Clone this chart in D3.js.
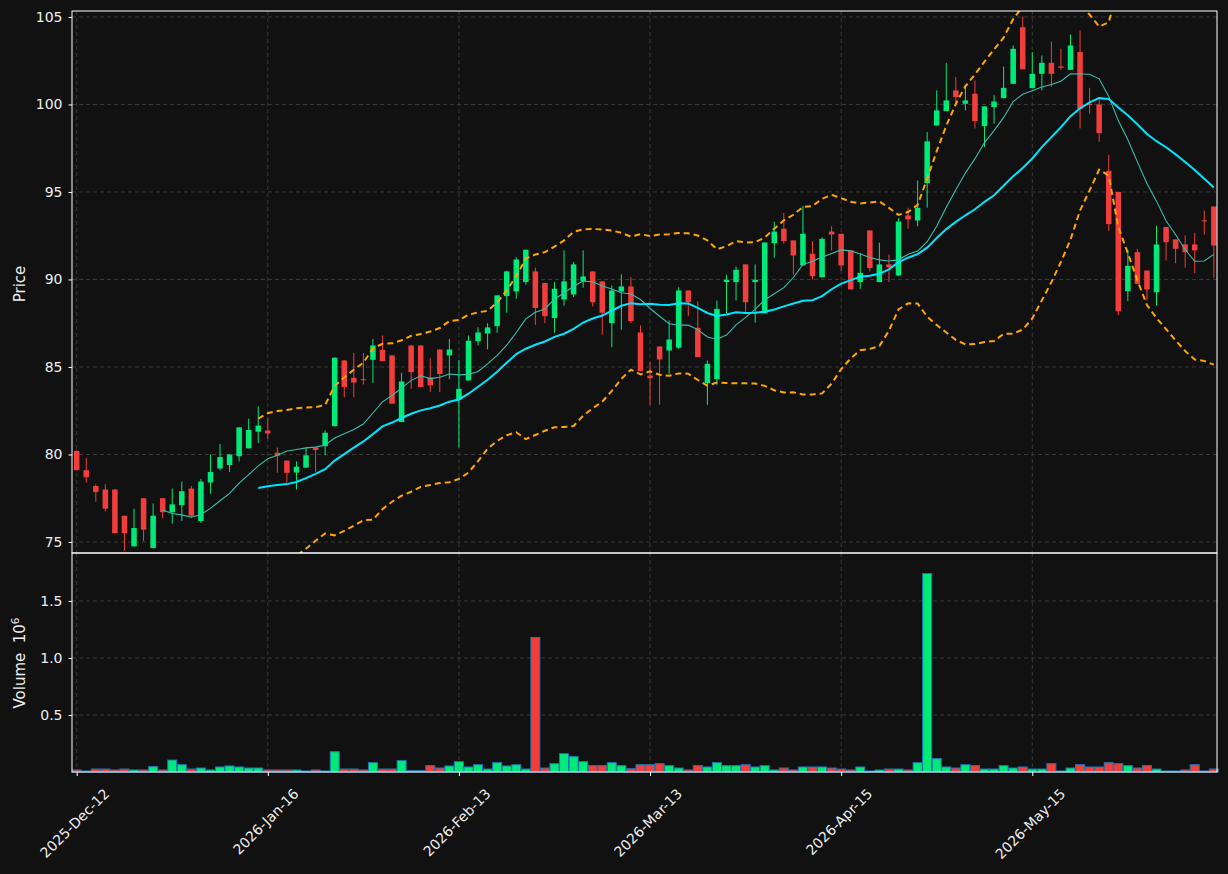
<!DOCTYPE html>
<html>
<head>
<meta charset="utf-8">
<script src="https://cdn.jsdelivr.net/npm/d3@7/dist/d3.min.js"></script>
<style>
  html, body { margin: 0; padding: 0; background: #111111; }
  svg { display: block; }
  text { font-family: "DejaVu Sans", sans-serif; fill: #eeeeee; }
</style>
</head>
<body>
<div id="chart"></div>
<script>
/* Daily OHLC values, one entry per trading session (index 0 = 2025-Dec-12). */
const opens = [
  80.2, 79.1, 78.2, 78.0, 78.0, 76.5, 74.75, 77.5, 74.65, 77.5,
  76.7, 77.1, 78.05, 76.2, 78.4, 79.2, 79.4, 79.9, 80.35, 81.3,
  81.37, 80.1, 79.65, 78.97, 79.25, 80.4, 80.47, 81.62, 85.37, 84.38,
  84.3, 85.41, 85.98, 85.66, 81.85, 86.23, 86.23, 84.4, 86.0, 85.66,
  83.13, 84.23, 86.47, 86.91, 87.33, 89.05, 89.31, 89.85, 90.46, 89.8,
  87.8, 88.86, 89.14, 89.9, 90.46, 89.89, 87.5, 89.31, 89.6, 86.97,
  84.51, 86.17, 85.94, 86.1, 89.37, 87.24, 84.08, 84.3, 89.85, 89.85,
  90.86, 89.85, 88.07, 92.07, 92.9, 92.23, 90.8, 91.47, 90.13, 92.74,
  92.61, 91.66, 89.85, 92.8, 89.85, 90.86, 90.23, 93.66, 93.37, 95.51,
  98.8, 99.62, 100.8, 100.04, 100.61, 98.76, 99.85, 100.36, 101.18, 104.41,
  100.93, 101.75, 102.38, 102.17, 101.98, 103.0, 100.02, 100.0, 96.21, 95.0,
  89.33, 91.56, 90.51, 89.27, 93.0, 92.29, 92.0, 92.0, 93.38, 94.17
];
const highs = [
  80.25, 79.8, 78.3, 78.3, 78.0, 76.5, 76.9, 77.5, 77.2, 77.5,
  78.05, 78.45, 78.2, 78.6, 80.0, 80.6, 80.0, 81.55, 82.05, 82.75,
  82.05, 80.4, 79.65, 79.6, 80.4, 80.4, 81.37, 85.55, 85.4, 85.8,
  85.8, 86.6, 86.8, 85.66, 84.67, 86.23, 86.23, 85.5, 86.0, 86.6,
  85.4, 86.8, 87.27, 87.5, 89.09, 90.5, 91.27, 91.7, 90.67, 89.8,
  89.85, 91.66, 91.0, 91.66, 90.46, 89.9, 89.66, 90.29, 90.13, 87.37,
  85.28, 86.17, 87.66, 89.56, 89.37, 88.74, 85.37, 88.8, 90.27, 90.74,
  90.86, 90.86, 92.11, 93.3, 93.8, 92.23, 94.2, 92.19, 92.4, 93.04,
  92.61, 91.66, 91.5, 92.8, 92.1, 91.43, 93.5, 94.1, 95.66, 98.42,
  100.8, 102.38, 101.56, 101.09, 101.37, 99.89, 100.55, 102.17, 103.37, 105.02,
  102.99, 102.8, 103.6, 103.18, 104.0, 104.23, 100.95, 100.42, 97.12, 95.0,
  91.69, 91.75, 90.51, 93.07, 93.0, 92.29, 92.51, 92.65, 93.94, 94.17
];
const lows = [
  79.1, 78.4, 77.3, 76.75, 75.5, 74.5, 74.75, 75.05, 74.65, 76.35,
  76.05, 76.2, 76.4, 76.1, 77.75, 79.1, 79.0, 79.6, 80.35, 80.65,
  80.9, 78.95, 78.4, 78.0, 79.25, 79.0, 79.95, 81.6, 83.27, 83.27,
  84.0, 84.1, 85.33, 82.9, 81.85, 83.75, 83.85, 83.56, 83.56, 84.3,
  80.4, 84.23, 86.23, 86.0, 86.95, 88.1, 88.9, 89.7, 87.4, 87.5,
  86.95, 88.5, 89.0, 89.53, 88.46, 86.85, 86.13, 87.13, 87.5, 84.76,
  82.84, 82.84, 84.61, 86.04, 87.9, 85.56, 82.84, 83.98, 88.08, 88.8,
  88.13, 87.53, 88.07, 91.24, 92.04, 90.27, 90.8, 90.0, 90.1, 91.66,
  90.5, 89.43, 89.47, 90.46, 89.85, 89.85, 90.2, 92.9, 93.04, 94.1,
  98.8, 99.62, 99.89, 99.66, 98.63, 97.57, 98.9, 100.36, 101.18, 102.01,
  100.93, 100.8, 101.0, 101.98, 101.98, 98.63, 99.47, 97.87, 92.77, 87.95,
  88.76, 89.75, 88.8, 88.51, 91.09, 90.93, 90.67, 90.36, 92.57, 90.1
];
const closes = [
  79.1, 78.7, 77.85, 76.9, 75.5, 75.5, 75.8, 75.7, 76.5, 76.7,
  77.15, 77.9, 76.5, 78.45, 79.0, 79.85, 80.0, 81.55, 81.4, 81.65,
  81.2, 79.93, 78.95, 79.3, 79.95, 80.25, 81.24, 85.53, 83.85, 84.11,
  84.28, 86.23, 85.33, 82.9, 84.17, 84.7, 83.85, 83.95, 84.6, 86.0,
  83.75, 86.5, 86.97, 87.26, 89.09, 90.46, 91.14, 91.7, 88.37, 87.9,
  89.47, 89.89, 90.86, 90.17, 88.7, 88.1, 89.37, 89.6, 87.62, 84.76,
  84.36, 85.43, 86.57, 89.37, 88.7, 85.56, 85.18, 88.32, 89.98, 90.55,
  88.7, 89.98, 92.11, 92.74, 92.19, 91.37, 92.61, 90.19, 92.32, 92.57,
  90.8, 89.43, 90.38, 90.65, 90.86, 90.7, 93.31, 93.43, 94.1, 97.89,
  99.66, 100.23, 100.42, 100.23, 99.05, 99.89, 100.17, 100.95, 103.18, 102.01,
  101.75, 102.38, 101.75, 102.1, 103.37, 99.75, 99.98, 98.36, 93.16, 88.18,
  90.78, 89.75, 89.43, 92.0, 92.13, 91.75, 91.56, 91.66, 93.33, 91.94
];
/* Traded volume, in millions of shares. */
const volumes = [
  0.018, 0.009, 0.026, 0.026, 0.018, 0.026, 0.018, 0.018, 0.047, 0.018,
  0.105, 0.064, 0.026, 0.035, 0.018, 0.044, 0.053, 0.044, 0.035, 0.035,
  0.018, 0.018, 0.018, 0.018, 0.009, 0.018, 0.009, 0.178, 0.026, 0.026,
  0.018, 0.082, 0.026, 0.026, 0.100, 0.012, 0.012, 0.056, 0.035, 0.053,
  0.091, 0.044, 0.064, 0.026, 0.082, 0.053, 0.064, 0.026, 1.180, 0.035,
  0.073, 0.161, 0.135, 0.091, 0.056, 0.056, 0.082, 0.056, 0.029, 0.064,
  0.064, 0.073, 0.056, 0.035, 0.018, 0.056, 0.044, 0.082, 0.056, 0.056,
  0.064, 0.044, 0.056, 0.018, 0.035, 0.018, 0.044, 0.044, 0.044, 0.035,
  0.026, 0.018, 0.044, 0.009, 0.018, 0.026, 0.026, 0.018, 0.082, 1.740,
  0.117, 0.044, 0.035, 0.064, 0.056, 0.026, 0.026, 0.056, 0.035, 0.044,
  0.026, 0.026, 0.073, 0.009, 0.035, 0.064, 0.044, 0.044, 0.082, 0.073,
  0.056, 0.035, 0.056, 0.026, 0.009, 0.009, 0.018, 0.064, 0.009, 0.026
];

/* Date ticks (session index and label) and value ticks. */
const tickIndex = [0, 20, 40, 60, 80, 100];
const tickLabels = ["2025-Dec-12", "2026-Jan-16", "2026-Feb-13", "2026-Mar-13", "2026-Apr-15", "2026-May-15"];
const priceTicks = [75, 80, 85, 90, 95, 100, 105];
const volumeTicks = [0.5, 1.0, 1.5];

/* Colours. */
const upColor = "#00ea7a";
const downColor = "#f23d3d";
const gridColor = "#3a3a3a";

/* Physical layout of the two panels. */
const width = 1228, height = 874;
const left = 72, right = 1217;
const priceTop = 11, priceBottom = 553;
const volTop = 553, volBottom = 772;

/* Rolling statistics over the closes, null until the window is full. */
function rolling(values, n, f) {
    return values.map((v, i) => i < n - 1 ? null : f(values.slice(i - n + 1, i + 1)));
}
/* Population standard deviation of a window. */
function popStd(a) {
    let m = d3.mean(a);
    return Math.sqrt(d3.mean(a, v => (v - m) * (v - m)));
}
const ma10 = rolling(closes, 10, d3.mean);
const ma20 = rolling(closes, 20, d3.mean);
const sd20 = rolling(closes, 20, popStd);
const upperBand = ma20.map((m, i) => m == null ? null : m + 2 * sd20[i]);
const lowerBand = ma20.map((m, i) => m == null ? null : m - 2 * sd20[i]);

/* Scales. */
let x = d3.scaleLinear().domain([-0.49, 119.33]).range([left, right]);
let yPrice = d3.scaleLinear().domain([74.37, 105.34]).range([priceBottom, priceTop]);
let yVol = d3.scaleLinear().domain([0, 1.92]).range([volBottom, volTop]);

let svg = d3.select("#chart").append("svg")
    .attr("width", width)
    .attr("height", height);
svg.append("rect").attr("width", width).attr("height", height).attr("fill", "#111111");

let defs = svg.append("defs");
defs.append("clipPath").attr("id", "clip-price")
    .append("rect")
    .attr("x", left).attr("y", priceTop)
    .attr("width", right - left).attr("height", priceBottom - priceTop);

/* Grid lines, dashed. */
function grid(g, yScale, yTicks, top, bottom) {
    g.selectAll("line.h").data(yTicks).enter().append("line")
        .attr("x1", left).attr("x2", right)
        .attr("y1", d => yScale(d)).attr("y2", d => yScale(d));
    g.selectAll("line.v").data(tickIndex).enter().append("line")
        .attr("x1", d => x(d)).attr("x2", d => x(d))
        .attr("y1", top).attr("y2", bottom);
    g.selectAll("line")
        .attr("stroke", gridColor)
        .attr("stroke-width", 1)
        .attr("stroke-dasharray", "4,3");
}
grid(svg.append("g"), yPrice, priceTicks, priceTop, priceBottom);
grid(svg.append("g"), yVol, volumeTicks, volTop, volBottom);

/* Candles. */
let candles = svg.append("g").attr("clip-path", "url(#clip-price)");
let idx = d3.range(closes.length);
let colorOf = i => closes[i] >= opens[i] ? upColor : downColor;
candles.selectAll("line").data(idx).enter().append("line")
    .attr("x1", i => x(i)).attr("x2", i => x(i))
    .attr("y1", i => yPrice(highs[i])).attr("y2", i => yPrice(lows[i]))
    .attr("stroke", colorOf)
    .attr("stroke-width", 1);
candles.selectAll("rect").data(idx).enter().append("rect")
    .attr("x", i => x(i) - 2.75)
    .attr("width", 5.5)
    .attr("y", i => yPrice(Math.max(opens[i], closes[i])))
    .attr("height", i => Math.max(1, Math.abs(yPrice(opens[i]) - yPrice(closes[i]))))
    .attr("fill", colorOf);

/* Moving averages and Bollinger bands. */
let line = d3.line()
    .defined(d => d != null)
    .x((d, i) => x(i))
    .y(d => yPrice(d));
let overlays = svg.append("g").attr("clip-path", "url(#clip-price)");
[upperBand, lowerBand].forEach(band => {
    overlays.append("path")
        .attr("d", line(band))
        .attr("fill", "none")
        .attr("stroke", "#ffa500")
        .attr("stroke-width", 2)
        .attr("stroke-dasharray", "6,4");
});
overlays.append("path")
    .attr("d", line(ma10))
    .attr("fill", "none")
    .attr("stroke", "#38bfae")
    .attr("stroke-width", 1.1);
overlays.append("path")
    .attr("d", line(ma20))
    .attr("fill", "none")
    .attr("stroke", "#00e5ff")
    .attr("stroke-width", 2);

/* Volume bars. */
svg.append("g").selectAll("rect").data(idx).enter().append("rect")
    .attr("x", i => x(i) - 4.5)
    .attr("width", 9)
    .attr("y", i => yVol(volumes[i]))
    .attr("height", i => yVol(0) - yVol(volumes[i]))
    .attr("fill", colorOf)
    .attr("stroke", "#1f77b4")
    .attr("stroke-width", 1);

/* Axes. */
function styleAxis(g) {
    g.select(".domain").remove();
    g.selectAll(".tick line").attr("stroke", "#ffffff");
    g.selectAll(".tick text")
        .attr("fill", "#f0f0f0")
        .style("font-size", "14px")
        .style("font-family", "DejaVu Sans, sans-serif");
}
svg.append("g")
    .attr("transform", "translate(" + left + ",0)")
    .call(d3.axisLeft(yPrice).tickValues(priceTicks).tickSize(3.5).tickPadding(6).tickFormat(d3.format("d")))
    .call(styleAxis);
svg.append("g")
    .attr("transform", "translate(" + left + ",0)")
    .call(d3.axisLeft(yVol).tickValues(volumeTicks).tickSize(3.5).tickPadding(6).tickFormat(d3.format(".1f")))
    .call(styleAxis);
svg.append("g")
    .attr("transform", "translate(0," + volBottom + ")")
    .call(d3.axisBottom(x).tickValues(tickIndex).tickSize(4).tickFormat(""))
    .call(styleAxis);

/* Rotated date labels, centred under their tick. */
let labels = svg.append("g");
tickIndex.forEach((t, k) => {
    let txt = labels.append("text")
        .attr("text-anchor", "middle")
        .attr("dy", "0.35em")
        .style("font-size", "14px")
        .text(tickLabels[k]);
    let len = txt.node().getComputedTextLength();
    let cy = 787 + (len + 12) * 0.3536;
    txt.attr("transform", "translate(" + (x(t) - 2) + "," + cy + ") rotate(-45)");
});

/* Panel borders. */
[[priceTop, priceBottom], [volTop, volBottom]].forEach(p => {
    svg.append("rect")
        .attr("x", left).attr("y", p[0])
        .attr("width", right - left).attr("height", p[1] - p[0])
        .attr("fill", "none")
        .attr("stroke", "#ffffff")
        .attr("stroke-width", 1);
});

/* Axis titles. */
svg.append("text")
    .attr("transform", "translate(25," + ((priceTop + priceBottom) / 2 + 2) + ") rotate(-90)")
    .attr("text-anchor", "middle")
    .style("font-size", "15px")
    .text("Price");
let vt = svg.append("text")
    .attr("transform", "translate(25,663) rotate(-90)")
    .attr("text-anchor", "middle")
    .style("font-size", "15px");
vt.append("tspan").text("Volume\u00a0\u00a010");
vt.append("tspan").attr("dy", -6).style("font-size", "10.5px").text("6");
</script>
</body>
</html>
